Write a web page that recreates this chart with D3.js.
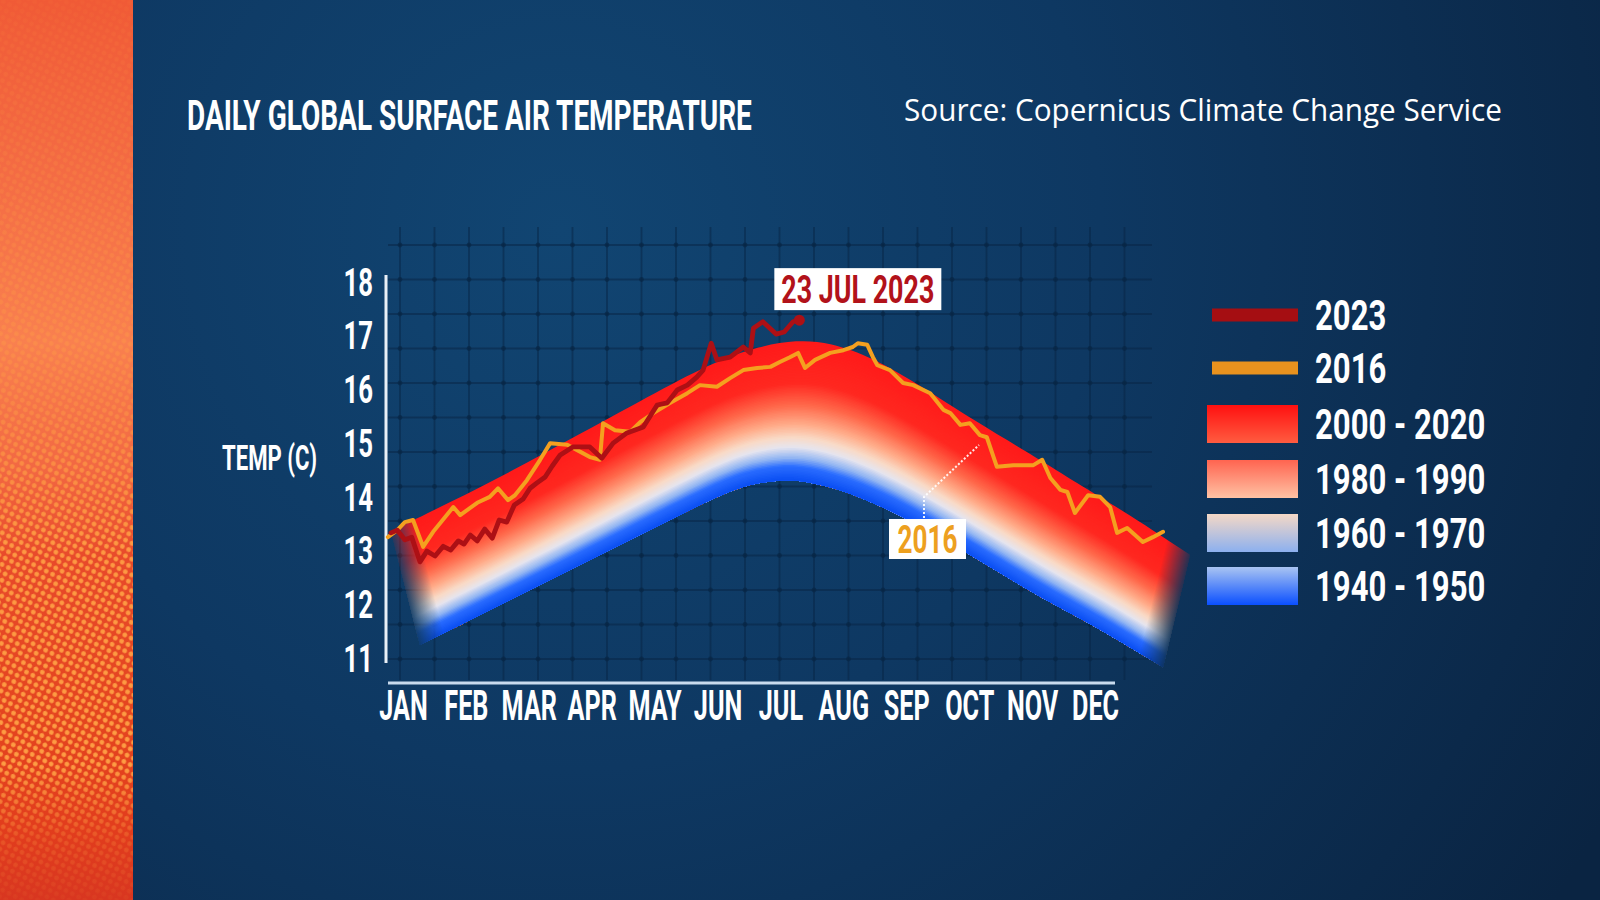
<!DOCTYPE html>
<html><head><meta charset="utf-8">
<script src="https://cdn.jsdelivr.net/npm/d3@7"></script>
<style>html,body{margin:0;padding:0;background:#0d3560;overflow:hidden}svg{display:block}</style>
</head><body>
<svg id="chart" width="1600" height="900"></svg>
<script>
// ---------------- DATA ----------------
const titleText = "DAILY GLOBAL SURFACE AIR TEMPERATURE";
const sourceText = "Source: Copernicus Climate Change Service";
const yLabelText = "TEMP (C)";
const months = ["JAN","FEB","MAR","APR","MAY","JUN","JUL","AUG","SEP","OCT","NOV","DEC"];
const yTicks = [11,12,13,14,15,16,17,18];

// climatology band: upper edge (2000-2020) and lower edge (1940-1950), [month position, °C], paired across the band
const bandTop = [[0.31,13.36],[1.25,13.90],[2.20,14.46],[3.31,15.17],[4.59,15.99],[5.44,16.51],[6.18,16.81],[6.75,16.92],[7.29,16.88],[7.97,16.59],[8.72,16.08],[9.56,15.43],[10.63,14.69],[11.15,14.30],[12.06,13.66],[13.01,12.92]];
const bandBottom = [[0.77,11.24],[1.69,11.78],[2.68,12.36],[3.79,13.01],[5.03,13.74],[5.81,14.18],[6.34,14.30],[6.75,14.32],[7.18,14.22],[7.77,14.00],[8.40,13.66],[9.12,13.20],[10.15,12.47],[10.71,12.08],[11.58,11.54],[12.58,10.83]];

// daily series [month position, °C]
const series2016 = [[0.26,13.25],[0.41,13.38],[0.53,13.53],[0.66,13.57],[0.82,13.07],[0.98,13.35],[1.30,13.81],[1.41,13.66],[1.68,13.89],[1.88,14.00],[2.01,14.16],[2.17,13.94],[2.28,14.03],[2.47,14.31],[2.68,14.69],[2.84,15.00],[3.11,14.97],[3.27,14.87],[3.47,14.74],[3.63,14.69],[3.68,15.37],[3.87,15.24],[4.11,15.21],[4.27,15.39],[4.48,15.56],[4.75,15.75],[5.02,15.93],[5.22,16.08],[5.49,16.05],[5.70,16.21],[5.91,16.36],[6.13,16.40],[6.34,16.42],[6.49,16.51],[6.65,16.60],[6.78,16.68],[6.89,16.40],[7.05,16.55],[7.29,16.68],[7.50,16.73],[7.65,16.79],[7.73,16.86],[7.88,16.83],[7.97,16.60],[8.04,16.45],[8.24,16.36],[8.45,16.12],[8.61,16.08],[8.88,15.93],[9.09,15.62],[9.20,15.56],[9.36,15.34],[9.51,15.37],[9.67,15.15],[9.78,15.11],[9.94,14.56],[10.20,14.59],[10.52,14.59],[10.66,14.69],[10.79,14.35],[10.95,14.13],[11.06,14.09],[11.18,13.70],[11.39,14.03],[11.58,14.00],[11.74,13.81],[11.85,13.33],[12.01,13.42],[12.26,13.16],[12.42,13.25],[12.58,13.35]];
const series2023 = [[0.31,13.33],[0.41,13.38],[0.53,13.20],[0.64,13.25],[0.77,12.79],[0.88,12.99],[1.01,12.90],[1.14,13.08],[1.26,13.01],[1.38,13.18],[1.47,13.12],[1.57,13.29],[1.68,13.18],[1.80,13.40],[1.92,13.23],[2.03,13.57],[2.15,13.53],[2.27,13.85],[2.41,13.96],[2.52,14.16],[2.63,14.26],[2.76,14.37],[2.87,14.57],[3.00,14.78],[3.20,14.93],[3.47,14.93],[3.66,14.72],[3.84,15.00],[4.06,15.19],[4.32,15.30],[4.54,15.71],[4.70,15.75],[4.86,15.99],[5.02,16.08],[5.17,16.23],[5.27,16.36],[5.40,16.86],[5.49,16.55],[5.70,16.60],[5.91,16.79],[6.02,16.68],[6.07,17.14],[6.22,17.26],[6.43,17.03],[6.56,17.07],[6.70,17.26],[6.80,17.29]];

const lineSeries = [
  {label:"2023", data: series2023, color:"#ad1015", legend:"#a50e12", width:4.8},
  {label:"2016", data: series2016, color:"#f4a01f", legend:"#e8921e", width:4}
];
const bandLegend = [
  {label:"2000 - 2020", c0:"#ff1010", c1:"#ff5c40"},
  {label:"1980 - 1990", c0:"#ff6450", c1:"#ffc2a4"},
  {label:"1960 - 1970", c0:"#f4d8c6", c1:"#8cb0ef"},
  {label:"1940 - 1950", c0:"#a9c4f2", c1:"#0a4fff"}
];
const bandStops  = [0, 0.3, 0.46, 0.6, 0.69, 0.76, 0.84, 0.9, 1];
const bandColors = ["#ff1a1a","#ff2820","#ff6a4c","#ffae8c","#f9dac6","#e6e5ee","#8fb3f3","#2a6cff","#0a4ef2"];
const callout2023 = "23 JUL 2023";
const callout2016 = "2016";

// ---------------- LAYOUT ----------------
const svg = d3.select("#chart");
const defs = svg.append("defs");
const FONT = "Roboto, 'Open Sans', sans-serif";

const x = d3.scaleLinear().domain([0, 12]).range([371.5, 1126.5]);
const y = d3.scaleLinear().domain([11, 18]).range([658, 282]);

// text squeezed horizontally to a target width (condensed look)
function fitText(parent, str, x0, y0, width, anchor, attrs){
  const t = parent.append("text").text(str).attr("text-anchor", anchor || "start");
  Object.entries(attrs).forEach(([k,v])=>t.attr(k,v));
  const len = t.node().getComputedTextLength();
  t.attr("transform", `translate(${x0},${y0}) scale(${width/len},1)`);
  return t;
}

// background
const bgG = defs.append("radialGradient").attr("id","bgGrad").attr("gradientUnits","userSpaceOnUse")
  .attr("cx",560).attr("cy",230).attr("r",1200);
[[0,"#114572"],[0.45,"#0e3862"],[1,"#0a2442"]].forEach(([o,c])=>bgG.append("stop").attr("offset",o).attr("stop-color",c));
svg.append("rect").attr("x",0).attr("y",0).attr("width",1600).attr("height",900).attr("fill","url(#bgGrad)");

// left orange strip
const stripG = defs.append("linearGradient").attr("id","stripGrad").attr("x1",0).attr("y1",0).attr("x2",0).attr("y2",1);
[[0,"#f05a36"],[0.2,"#f46c44"],[0.38,"#f9804f"],[0.52,"#f26842"],[0.62,"#e84a2a"],[0.8,"#e4451f"],[0.92,"#e23d1d"],[1,"#d83620"]].forEach(([o,c])=>stripG.append("stop").attr("offset",o).attr("stop-color",c));
svg.append("rect").attr("x",0).attr("y",0).attr("width",133).attr("height",900).attr("fill","url(#stripGrad)");
const pat = defs.append("pattern").attr("id","dots").attr("patternUnits","userSpaceOnUse").attr("width",10).attr("height",10).attr("patternTransform","rotate(-18)");
pat.append("circle").attr("cx",2.5).attr("cy",2.5).attr("r",2.4).attr("fill","#ffa245");
pat.append("circle").attr("cx",7.5).attr("cy",7.5).attr("r",2.4).attr("fill","#ffa245");
const dotMaskG = defs.append("linearGradient").attr("id","dotMaskGrad").attr("x1",0).attr("y1",0).attr("x2",0).attr("y2",1);
[[0,"#111"],[0.2,"#333"],[0.45,"#666"],[0.6,"#eee"],[0.85,"#fff"],[0.93,"#444"],[1,"#111"]].forEach(([o,c])=>dotMaskG.append("stop").attr("offset",o).attr("stop-color",c));
defs.append("mask").attr("id","dotMask").attr("maskUnits","userSpaceOnUse").attr("x",0).attr("y",0).attr("width",133).attr("height",900)
  .append("rect").attr("x",0).attr("y",0).attr("width",133).attr("height",900).attr("fill","url(#dotMaskGrad)");
svg.append("rect").attr("x",0).attr("y",0).attr("width",133).attr("height",900).attr("fill","url(#dots)").attr("mask","url(#dotMask)").attr("opacity",0.95);

// decorative grid
const gridStep = 34.5;
const gridG = svg.append("g").attr("stroke","#072443").attr("stroke-opacity",0.5).attr("stroke-width",1.8);
const gx = d3.range(400, 1130, gridStep), gy = d3.range(245, 665, gridStep);
gridG.selectAll("line.v").data(gx).join("line").attr("x1",d=>d).attr("x2",d=>d).attr("y1",227).attr("y2",680);
gridG.selectAll("line.h").data(gy).join("line").attr("x1",388).attr("x2",1152).attr("y1",d=>d).attr("y2",d=>d);
const dotsG = svg.append("g").attr("fill","#072443").attr("fill-opacity",0.6);
gx.forEach(a=>gy.forEach(b=>dotsG.append("circle").attr("cx",a).attr("cy",b).attr("r",2.4)));

// ---------------- BAND ----------------
const color = d3.scaleLinear().domain(bandStops).range(bandColors).interpolate(d3.interpolateRgb);
const pairs = bandTop.map((t,i)=>[[x(t[0]),y(t[1])],[x(bandBottom[i][0]),y(bandBottom[i][1])]]);
const curveLine = d3.line().curve(d3.curveBasis);
const bottomPts = pairs.map(p=>p[1]);
const bottomRev = curveLine(bottomPts.slice().reverse());

function fadeGrad(id, p0, n){
  const g = defs.append("linearGradient").attr("id",id).attr("gradientUnits","userSpaceOnUse")
    .attr("x1",p0[0]-3*n[0]).attr("y1",p0[1]-3*n[1]).attr("x2",p0[0]+26*n[0]).attr("y2",p0[1]+26*n[1]);
  g.append("stop").attr("offset",0).attr("stop-color","#000");
  g.append("stop").attr("offset",1).attr("stop-color","#fff");
}
function endNormal(a,b,sign){
  const dx=b[0]-a[0], dy=b[1]-a[1], L=Math.hypot(dx,dy);
  return [sign*dy/L, -sign*dx/L];
}
const first = pairs[0], last = pairs[pairs.length-1];
fadeGrad("fadeL", [(first[0][0]+first[1][0])/2,(first[0][1]+first[1][1])/2], endNormal(first[0],first[1],1));
fadeGrad("fadeR", [(last[0][0]+last[1][0])/2,(last[0][1]+last[1][1])/2], endNormal(last[0],last[1],-1));
defs.append("mask").attr("id","maskL").attr("maskUnits","userSpaceOnUse").attr("x",0).attr("y",0).attr("width",1600).attr("height",900)
  .append("rect").attr("width",1600).attr("height",900).attr("fill","url(#fadeL)");
defs.append("mask").attr("id","maskR").attr("maskUnits","userSpaceOnUse").attr("x",0).attr("y",0).attr("width",1600).attr("height",900)
  .append("rect").attr("width",1600).attr("height",900).attr("fill","url(#fadeR)");

const bandOuter = svg.append("g").attr("mask","url(#maskL)");
const bandG = bandOuter.append("g").attr("mask","url(#maskR)");
const N = 90;
for(let k=0;k<N;k++){
  const t = k/N;
  const pts = pairs.map(([T,B])=>[T[0]+(B[0]-T[0])*t, T[1]+(B[1]-T[1])*t]);
  const d = curveLine(pts) + "L" + bottomRev.slice(1) + "Z";
  bandG.append("path").attr("d",d).attr("fill",color((k+0.5)/N));
}

// ---------------- AXES ----------------
const axisX0 = 386, axisY0 = 683;
svg.append("line").attr("x1",axisX0).attr("x2",axisX0).attr("y1",275).attr("y2",663)
  .attr("stroke","#e9f0f7").attr("stroke-width",3);
svg.append("line").attr("x1",388).attr("x2",1115).attr("y1",axisY0).attr("y2",axisY0)
  .attr("stroke","#c9dbee").attr("stroke-width",3);

const ySx = 0.66;
const yAxisG = svg.append("g").attr("transform",`translate(${axisX0},0)`)
  .call(d3.axisLeft(y).tickValues(yTicks).tickSize(0).tickPadding(13).tickFormat(d3.format("d")));
yAxisG.select(".domain").remove();
yAxisG.selectAll("text").attr("fill","#ffffff").attr("font-family",FONT).attr("font-weight",700)
  .attr("font-size",39).attr("transform",`scale(${ySx},1)`).attr("x",-13/ySx).attr("dy","0.34em");

const xSx = 0.6;
const xAxisG = svg.append("g").attr("transform",`translate(0,${axisY0})`)
  .call(d3.axisBottom(x).tickValues(d3.range(12).map(i=>i+0.5)).tickSize(0).tickPadding(7).tickFormat(d=>months[Math.floor(d)]));
xAxisG.select(".domain").remove();
xAxisG.selectAll("text").attr("fill","#ffffff").attr("font-family",FONT).attr("font-weight",700)
  .attr("font-size",42).attr("transform",`scale(${xSx},1)`);

fitText(svg, yLabelText, 222, 469.5, 95, "start",
  {"fill":"#fff","font-family":FONT,"font-weight":700,"font-size":35});

// ---------------- LINES ----------------
const lineGen = d3.line().x(d=>x(d[0])).y(d=>y(d[1]));
lineSeries.slice().reverse().forEach(s=>{
  svg.append("path").attr("d",lineGen(s.data)).attr("fill","none").attr("stroke",s.color)
    .attr("stroke-width",s.width).attr("stroke-linejoin","round").attr("stroke-linecap","round");
});
const endPt = series2023[series2023.length-1];
svg.append("circle").attr("cx",x(endPt[0])).attr("cy",y(endPt[1])).attr("r",5.5).attr("fill","#ad1015");

// ---------------- CALLOUTS ----------------
const ex = x(endPt[0]), ey = y(endPt[1]);
svg.append("rect").attr("x",ex-25).attr("y",ey-52).attr("width",167).attr("height",42).attr("fill","#ffffff");
fitText(svg, callout2023, ex+58.5, ey-17.5, 153, "middle",
  {"fill":"#b2121a","font-family":FONT,"font-weight":700,"font-size":38});

svg.append("path").attr("d","M924,518 V497 L979,445").attr("fill","none").attr("stroke","#ffffff")
  .attr("stroke-width",2).attr("stroke-dasharray","2,2").attr("opacity",0.9);
svg.append("rect").attr("x",889).attr("y",519).attr("width",77).attr("height",40).attr("fill","#ffffff");
fitText(svg, callout2016, 927.5, 553, 60, "middle",
  {"fill":"#eda01f","font-family":FONT,"font-weight":700,"font-size":39});

// ---------------- LEGEND ----------------
const legSx = 0.74;
const legG = svg.append("g");
const lineRows = [315, 368];
lineSeries.forEach((s,i)=>{
  legG.append("rect").attr("x",1212).attr("y",lineRows[i]-6.5).attr("width",86).attr("height",13).attr("fill",s.legend);
  legG.append("text").attr("transform",`translate(1315,${lineRows[i]+15}) scale(${legSx},1)`).text(s.label)
    .attr("fill","#fff").attr("font-family",FONT).attr("font-weight",700).attr("font-size",42);
});
const bandRows = [424, 479, 533, 586];
bandLegend.forEach((b,i)=>{
  const gid = "leg"+i;
  const g = defs.append("linearGradient").attr("id",gid).attr("x1",0).attr("y1",0).attr("x2",0).attr("y2",1);
  g.append("stop").attr("offset",0).attr("stop-color",b.c0);
  g.append("stop").attr("offset",1).attr("stop-color",b.c1);
  legG.append("rect").attr("x",1207).attr("y",bandRows[i]-19).attr("width",91).attr("height",38).attr("fill",`url(#${gid})`);
  legG.append("text").attr("transform",`translate(1315,${bandRows[i]+15}) scale(${legSx},1)`).text(b.label)
    .attr("fill","#fff").attr("font-family",FONT).attr("font-weight",700).attr("font-size",42);
});

// ---------------- TITLES ----------------
fitText(svg, titleText, 187, 129.5, 565, "start",
  {"fill":"#fff","font-family":FONT,"font-weight":700,"font-size":43});
fitText(svg, sourceText, 904, 121, 598, "start",
  {"fill":"#fff","font-family":"'Open Sans', sans-serif","font-weight":400,"font-size":31});
</script>
</body></html>
